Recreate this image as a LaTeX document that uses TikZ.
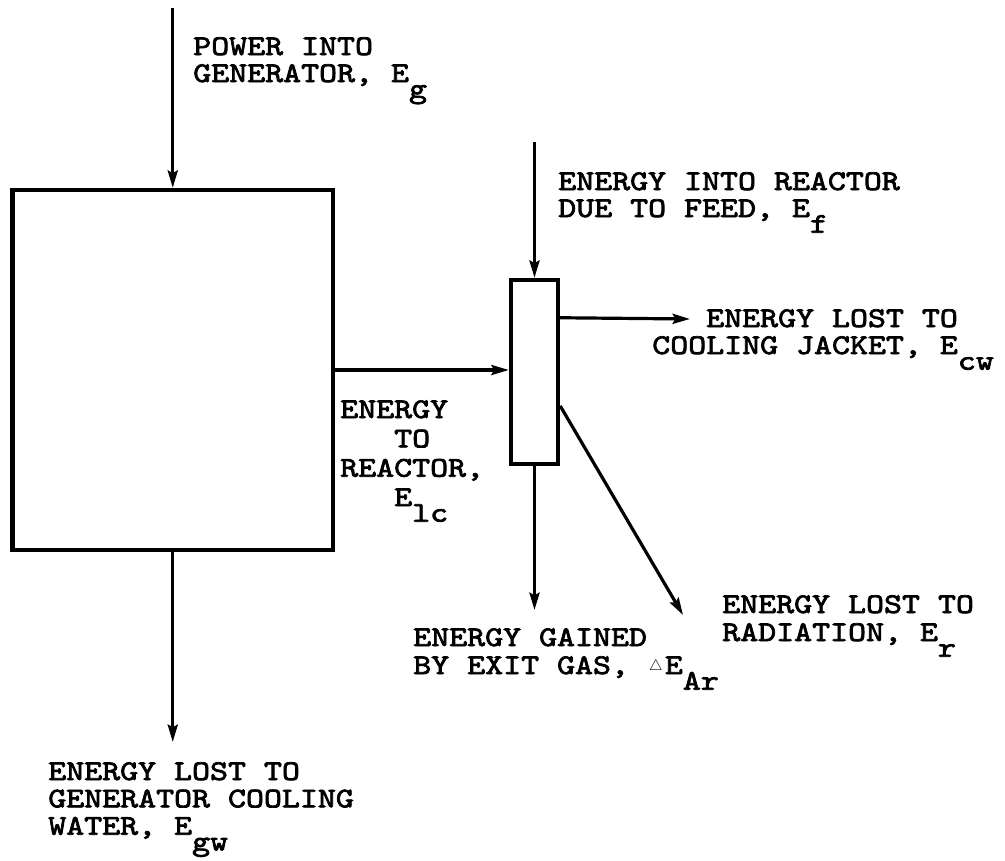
\documentclass[tikz,border=0pt]{standalone}
\usepackage{fontspec}
\usepackage{graphicx}
\newfontfamily\tw{lmmono10-regular.otf}[FakeStretch=1.2, FakeBold=2.6]
\usetikzlibrary{arrows.meta,calc}
\newcommand\sbs[1]{\raisebox{-0.55em}{#1}}
\newcommand\stack[2]{\vtop{\fontsize{21.4}{#1}\selectfont\lineskiplimit=-100pt\relax\lineskip=0pt\relax #2}}
\newcommand\dtri{\makebox[0.63em][c]{\raisebox{0.12em}{\scalebox{0.55}{$\triangle$}}}}
\begin{document}
\begin{tikzpicture}[x=0.75pt,y=-0.75pt,
  box/.style={draw, line width=3.3pt, inner sep=0pt},
  arr/.style={line width=2.4pt, -{Stealth[length=13pt,width=7.5pt,inset=2pt]}},
  lab/.style={anchor=base west, inner sep=0pt, font=\tw}]
\useasboundingbox (0,0) rectangle (1005,860);
% boxes
\node[box, minimum width=240.4pt, minimum height=270pt] (gen) at (172.75,370) {};
\node[box, minimum width=35.25pt, minimum height=138pt] (reactor) at (534.5,372) {};
% free ends
\coordinate (pin) at (172.75,8);
\coordinate (gout) at (172.75,742);
\coordinate (fin) at (534.5,142);
\coordinate (cj) at (690,319);
\coordinate (gas) at (534.5,610);
\coordinate (rad) at (683,615);
% connectors
\draw[arr] (pin) -- (gen.north);
\draw[arr] (gen.south) -- (gout);
\draw[arr] (gen.east) -- (gen.east -| reactor.west);
\draw[arr] (fin) -- (reactor.north);
\draw[arr] ($(reactor.north east)!0.212!(reactor.south east)$) -- (cj);
\draw[arr] (reactor.south) -- (gas);
\draw[arr] ($(reactor.north east)!0.68!(reactor.south east)$) -- (rad);
% labels
\node[lab] (lpower) at (193,55) {\stack{20.25pt}{\hbox{POWER INTO}\hbox{GENERATOR, E\sbs{g}}}};
\node[lab] (lfeed) at (558,190) {\stack{20.25pt}{\hbox{ENERGY INTO REACTOR}\hbox{DUE TO FEED, E\sbs{f}}}};
\node[lab] (lcool) at (652,327) {\stack{20.25pt}{\hbox{\phantom{COO}ENERGY LOST TO}\hbox{COOLING JACKET, E\sbs{cw}}}};
\node[lab] (lreac) at (340,418) {\stack{22pt}{\hbox{ENERGY}\hbox{\phantom{EEE}TO}\hbox{REACTOR,}\hbox{\phantom{EEE}E\sbs{lc}}}};
\node[lab] (lgas) at (413,646) {\stack{21pt}{\hbox{ENERGY GAINED}\hbox{BY EXIT GAS, \dtri E\sbs{Ar}}}};
\node[lab] (lrad) at (722,613) {\stack{21pt}{\hbox{ENERGY LOST TO}\hbox{RADIATION, E\sbs{r}}}};
\node[lab] (lgw) at (48,780) {\stack{20.5pt}{\hbox{ENERGY LOST TO}\hbox{GENERATOR COOLING}\hbox{WATER, E\sbs{gw}}}};
\end{tikzpicture}
\end{document}
